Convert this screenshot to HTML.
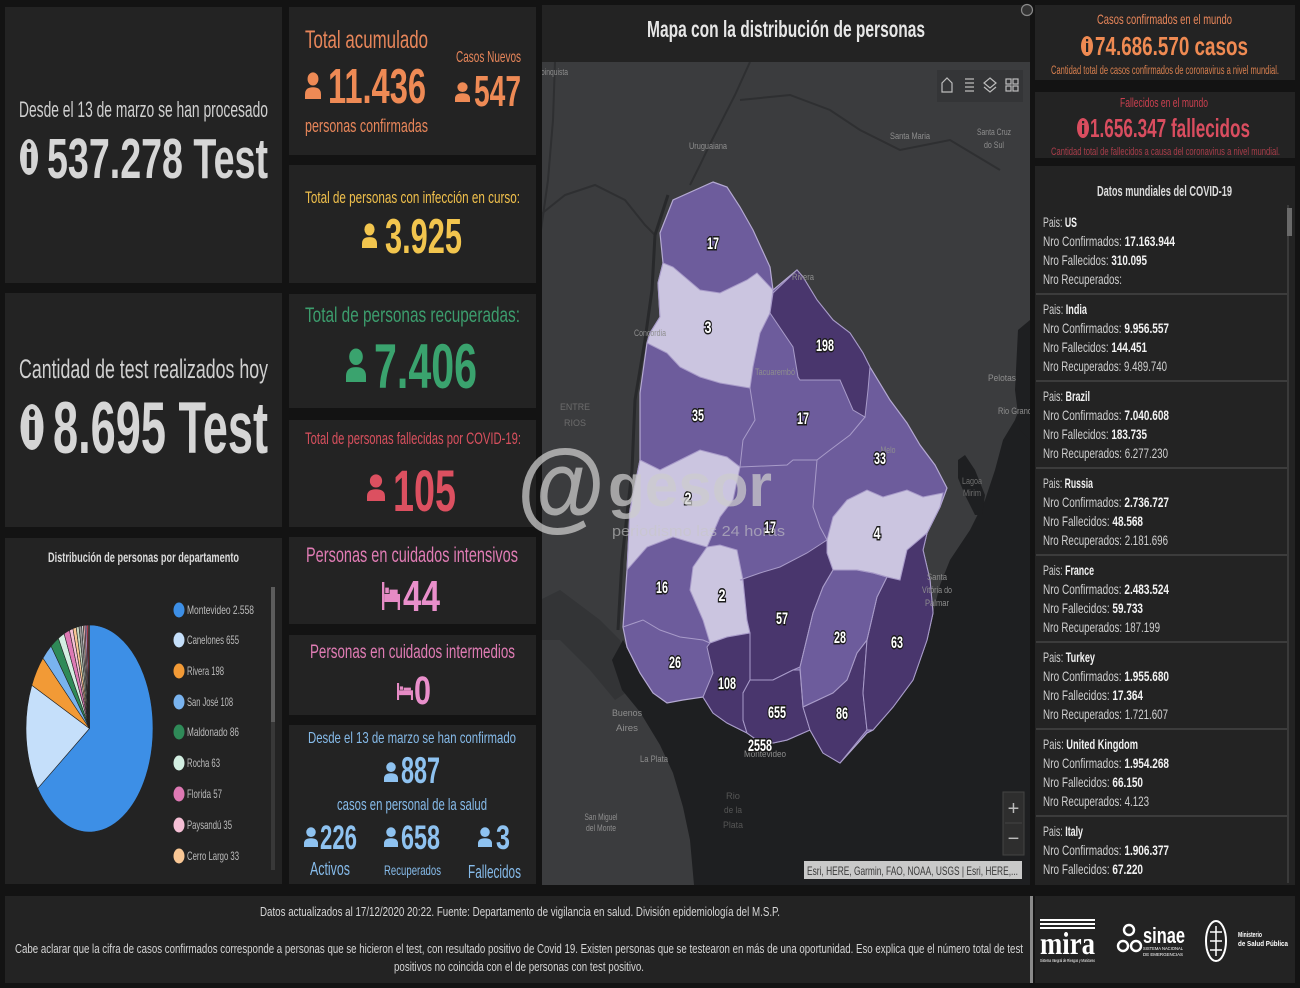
<!DOCTYPE html>
<html><head><meta charset="utf-8">
<style>
html,body{margin:0;padding:0;background:#131313;width:1300px;height:988px;overflow:hidden;}
svg{display:block}
text{font-family:"Liberation Sans",sans-serif;}
.lb{font-size:9px;fill:#8e8e8e;text-anchor:middle;}
.dn{font-size:17px;font-weight:bold;fill:#fff;stroke:#1a1a1a;stroke-width:3;paint-order:stroke;text-anchor:middle;}
.cl{font-size:14px;fill:#cfcfcf;}
.cl tspan{font-weight:bold;fill:#f2f2f2;}
.lg{font-size:12px;fill:#bcbcbc;}
</style></head><body>
<svg width="1300" height="988" viewBox="0 0 1300 988" xmlns="http://www.w3.org/2000/svg">
<defs>
<symbol id="p" viewBox="0 0 10 14" preserveAspectRatio="none"><circle cx="5" cy="3.6" r="3.4"/><path d="M0,14 L0,11.6 Q0,7.9 5,7.9 Q10,7.9 10,11.6 L10,14 Z"/></symbol>
<symbol id="bed" viewBox="0 0 20 14" preserveAspectRatio="none"><rect x="0" y="0" width="2.6" height="14"/><rect x="2.6" y="6" width="17.4" height="4"/><rect x="3.6" y="2.8" width="4" height="2.8"/><rect x="8.4" y="3.8" width="9" height="2.2"/><rect x="17.4" y="9" width="2.6" height="5"/></symbol>
<clipPath id="mc"><rect x="542" y="62" width="488" height="823"/></clipPath>
</defs>
<rect width="1300" height="988" fill="#131313"/>

<!-- LEFT COLUMN -->
<rect x="5" y="7" width="277" height="276" fill="#232323"/>
<rect x="5" y="293" width="277" height="234" fill="#232323"/>
<rect x="5" y="538" width="277" height="346" fill="#232323"/>

<text x="19" y="117" font-size="22" fill="#d0d0d0" textLength="249" lengthAdjust="spacingAndGlyphs">Desde el 13 de marzo se han procesado</text>
<ellipse cx="29" cy="157" rx="9" ry="18" fill="#d4d4d4"/>
<ellipse cx="29" cy="146" rx="2.3" ry="3.2" fill="#232323"/>
<rect x="26.8" y="152" width="4.4" height="16" fill="#232323"/>
<text x="47" y="178" font-size="57" font-weight="bold" fill="#d6d6d6" textLength="221" lengthAdjust="spacingAndGlyphs">537.278 Test</text>

<text x="19" y="378" font-size="27" fill="#d0d0d0" textLength="249" lengthAdjust="spacingAndGlyphs">Cantidad de test realizados hoy</text>
<ellipse cx="32" cy="427" rx="11.5" ry="23" fill="#d4d4d4"/>
<ellipse cx="32" cy="413" rx="3" ry="4" fill="#232323"/>
<rect x="29.2" y="420" width="5.6" height="20" fill="#232323"/>
<text x="53" y="453" font-size="73" font-weight="bold" fill="#d6d6d6" textLength="215" lengthAdjust="spacingAndGlyphs">8.695 Test</text>

<!-- Pie -->
<text x="48" y="562" font-size="13.5" font-weight="bold" fill="#dcdcdc" textLength="191" lengthAdjust="spacingAndGlyphs">Distribución de personas por departamento</text>
<g stroke="#232323" stroke-width="0.6">
<path d="M89.5,728.5 L89.5,625 A63.5,103.5 0 1 1 37.72,788.42 Z" fill="#3d8fe6"/>
<path d="M89.5,728.5 L37.72,788.42 A63.5,103.5 0 0 1 31.81,685.25 Z" fill="#c5dffa"/>
<path d="M89.5,728.5 L31.81,685.25 A63.5,103.5 0 0 1 42.94,658.12 Z" fill="#f29a36"/>
<path d="M89.5,728.5 L42.94,658.12 A63.5,103.5 0 0 1 51.08,646.08 Z" fill="#79b3ef"/>
<path d="M89.5,728.5 L51.08,646.08 A63.5,103.5 0 0 1 58.37,638.29 Z" fill="#2f8a58"/>
<path d="M89.5,728.5 L58.37,638.29 A63.5,103.5 0 0 1 64.11,633.63 Z" fill="#d3efe2"/>
<path d="M89.5,728.5 L64.11,633.63 A63.5,103.5 0 0 1 69.52,630.26 Z" fill="#de79b4"/>
<path d="M89.5,728.5 L69.52,630.26 A63.5,103.5 0 0 1 72.93,628.59 Z" fill="#f5bfd5"/>
<path d="M89.5,728.5 L72.93,628.59 A63.5,103.5 0 0 1 76.18,627.31 Z" fill="#f9c795"/>
<path d="M89.5,728.5 L76.18,627.31 A63.5,103.5 0 0 1 78.98,626.43 Z" fill="#c8d8c0"/>
<path d="M89.5,728.5 L78.98,626.43 A63.5,103.5 0 0 1 81.59,625.81 Z" fill="#9a9a9a"/>
<path d="M89.5,728.5 L81.59,625.81 A63.5,103.5 0 0 1 83.31,625.50 Z" fill="#d8d8d8"/>
<path d="M89.5,728.5 L83.31,625.50 A63.5,103.5 0 0 1 85.04,625.26 Z" fill="#e0a5a5"/>
<path d="M89.5,728.5 L85.04,625.26 A63.5,103.5 0 0 1 86.76,625.09 Z" fill="#c9a0d8"/>
<path d="M89.5,728.5 L86.76,625.09 A63.5,103.5 0 0 1 88.39,625.02 Z" fill="#c0394b"/>
<path d="M89.5,728.5 L88.39,625.02 A63.5,103.5 0 0 1 89.5,625 Z" fill="#888"/>
</g>
<ellipse cx="179" cy="610" rx="5.5" ry="7.5" fill="#3d8fe6"/>
<ellipse cx="179" cy="640" rx="5.5" ry="7.5" fill="#c5dffa"/>
<ellipse cx="179" cy="671" rx="5.5" ry="7.5" fill="#f29a36"/>
<ellipse cx="179" cy="702" rx="5.5" ry="7.5" fill="#79b3ef"/>
<ellipse cx="179" cy="732" rx="5.5" ry="7.5" fill="#2f8a58"/>
<ellipse cx="179" cy="763" rx="5.5" ry="7.5" fill="#d3efe2"/>
<ellipse cx="179" cy="794" rx="5.5" ry="7.5" fill="#de79b4"/>
<ellipse cx="179" cy="825" rx="5.5" ry="7.5" fill="#f5bfd5"/>
<ellipse cx="179" cy="856" rx="5.5" ry="7.5" fill="#f9c795"/>
<text class="lg" x="187" y="614" textLength="67" lengthAdjust="spacingAndGlyphs">Montevideo 2.558</text>
<text class="lg" x="187" y="644" textLength="52" lengthAdjust="spacingAndGlyphs">Canelones 655</text>
<text class="lg" x="187" y="675" textLength="37" lengthAdjust="spacingAndGlyphs">Rivera 198</text>
<text class="lg" x="187" y="706" textLength="46" lengthAdjust="spacingAndGlyphs">San José 108</text>
<text class="lg" x="187" y="736" textLength="52" lengthAdjust="spacingAndGlyphs">Maldonado 86</text>
<text class="lg" x="187" y="767" textLength="33" lengthAdjust="spacingAndGlyphs">Rocha 63</text>
<text class="lg" x="187" y="798" textLength="35" lengthAdjust="spacingAndGlyphs">Florida 57</text>
<text class="lg" x="187" y="829" textLength="45" lengthAdjust="spacingAndGlyphs">Paysandú 35</text>
<text class="lg" x="187" y="860" textLength="52" lengthAdjust="spacingAndGlyphs">Cerro Largo 33</text>
<rect x="271" y="587" width="4" height="283" fill="#383838"/>
<rect x="271" y="587" width="4" height="135" fill="#5c5c5c"/>

<!-- MIDDLE COLUMN -->
<rect x="289" y="7" width="247" height="148" fill="#232323"/>
<rect x="289" y="165" width="247" height="118" fill="#232323"/>
<rect x="289" y="294" width="247" height="114" fill="#232323"/>
<rect x="289" y="420" width="247" height="107" fill="#232323"/>
<rect x="289" y="537" width="247" height="87" fill="#232323"/>
<rect x="289" y="635" width="247" height="80" fill="#232323"/>
<rect x="289" y="725" width="247" height="159" fill="#232323"/>

<text x="305" y="48" font-size="25" fill="#e8865a" textLength="123" lengthAdjust="spacingAndGlyphs">Total acumulado</text>
<text x="456" y="62" font-size="16" fill="#e8865a" textLength="65" lengthAdjust="spacingAndGlyphs">Casos Nuevos</text>
<use href="#p" x="305" y="72" width="16" height="27" fill="#ee8a55"/>
<text x="328" y="103" font-size="49" font-weight="bold" fill="#ee8a55" textLength="98" lengthAdjust="spacingAndGlyphs">11.436</text>
<use href="#p" x="455" y="82" width="15" height="20" fill="#ee8a55"/>
<text x="474" y="106" font-size="44" font-weight="bold" fill="#ee8a55" textLength="47" lengthAdjust="spacingAndGlyphs">547</text>
<text x="305" y="132" font-size="18" fill="#e8865a" textLength="123" lengthAdjust="spacingAndGlyphs">personas confirmadas</text>

<text x="305" y="203" font-size="17" fill="#f0c04c" textLength="215" lengthAdjust="spacingAndGlyphs">Total de personas con infección en curso:</text>
<use href="#p" x="362" y="223" width="15" height="25" fill="#f2c54e"/>
<text x="385" y="253" font-size="49" font-weight="bold" fill="#f2c54e" textLength="77" lengthAdjust="spacingAndGlyphs">3.925</text>

<text x="305" y="322" font-size="21" fill="#3c9d6d" textLength="215" lengthAdjust="spacingAndGlyphs">Total de personas recuperadas:</text>
<use href="#p" x="346" y="348" width="20" height="34" fill="#3aa36e"/>
<text x="374" y="388" font-size="63" font-weight="bold" fill="#3aa36e" textLength="103" lengthAdjust="spacingAndGlyphs">7.406</text>

<text x="305" y="444" font-size="17" fill="#d8505e" textLength="216" lengthAdjust="spacingAndGlyphs">Total de personas fallecidas por COVID-19:</text>
<use href="#p" x="367" y="474" width="18" height="27" fill="#dc5060"/>
<text x="393" y="511" font-size="58" font-weight="bold" fill="#dc5060" textLength="63" lengthAdjust="spacingAndGlyphs">105</text>

<text x="306" y="562" font-size="21" fill="#e07cb4" textLength="212" lengthAdjust="spacingAndGlyphs">Personas en cuidados intensivos</text>
<use href="#bed" x="382" y="582" width="18" height="28" fill="#e68bc5"/>
<text x="403" y="611" font-size="44" font-weight="bold" fill="#e98fcb" textLength="37" lengthAdjust="spacingAndGlyphs">44</text>

<text x="310" y="658" font-size="19" fill="#e07cb4" textLength="205" lengthAdjust="spacingAndGlyphs">Personas en cuidados intermedios</text>
<use href="#bed" x="397" y="683" width="16" height="17" fill="#e68bc5"/>
<text x="414" y="704" font-size="40" font-weight="bold" fill="#e98fcb" textLength="17" lengthAdjust="spacingAndGlyphs">0</text>

<text x="308" y="743" font-size="16" fill="#86bbea" textLength="208" lengthAdjust="spacingAndGlyphs">Desde el 13 de marzo se han confirmado</text>
<use href="#p" x="384" y="762" width="14" height="20" fill="#8ec2f0"/>
<text x="401" y="783" font-size="37" font-weight="bold" fill="#8ec2f0" textLength="39" lengthAdjust="spacingAndGlyphs">887</text>
<text x="337" y="810" font-size="17" fill="#86bbea" textLength="150" lengthAdjust="spacingAndGlyphs">casos en personal de la salud</text>
<use href="#p" x="304" y="827" width="14" height="20" fill="#8ec2f0"/>
<text x="320" y="849" font-size="34" font-weight="bold" fill="#8ec2f0" textLength="37" lengthAdjust="spacingAndGlyphs">226</text>
<use href="#p" x="384" y="827" width="14" height="20" fill="#8ec2f0"/>
<text x="401" y="849" font-size="34" font-weight="bold" fill="#8ec2f0" textLength="39" lengthAdjust="spacingAndGlyphs">658</text>
<use href="#p" x="478" y="827" width="14" height="20" fill="#8ec2f0"/>
<text x="496" y="849" font-size="34" font-weight="bold" fill="#8ec2f0" textLength="14" lengthAdjust="spacingAndGlyphs">3</text>
<text x="310" y="875" font-size="18" fill="#86bbea" textLength="40" lengthAdjust="spacingAndGlyphs">Activos</text>
<text x="384" y="875" font-size="14" fill="#86bbea" textLength="57" lengthAdjust="spacingAndGlyphs">Recuperados</text>
<text x="468" y="878" font-size="18" fill="#86bbea" textLength="53" lengthAdjust="spacingAndGlyphs">Fallecidos</text>

<!-- MAP -->
<rect x="542" y="5" width="488" height="57" fill="#232323"/>
<text x="647" y="37" font-size="23" font-weight="bold" fill="#e6e6e6" textLength="278" lengthAdjust="spacingAndGlyphs">Mapa con la distribución de personas</text>
<circle cx="1027" cy="10" r="5.5" fill="#333" stroke="#8a8a8a" stroke-width="1.2"/>
<g clip-path="url(#mc)">
<rect x="542" y="62" width="488" height="823" fill="#3b3c3e"/>
<g fill="none" stroke="#2e2f31" stroke-width="2">
<polyline points="750,62 735,95 712,140 700,165 690,185"/>
<polyline points="540,215 565,195 595,185 625,200 645,225 655,235"/>
<polyline points="740,100 790,95 830,110 860,130 900,150 950,140 1000,170"/>
<polyline points="555,62 553,120 548,180 541,230"/>
<polyline points="668,195 655,235 652,290 645,340 635,400 632,470 622,560 618,630" stroke="#28292b" stroke-width="3"/>
</g>
<polygon points="540,600 560,590 600,620 620,640 627,660 630,690 615,700 590,670 560,640 540,640" fill="#333436"/>
<polygon fill="#1e1f21" points="1030,380 1015,420 1003,440 995,470 985,500 970,530 950,560 940,585 933,613 927,640 913,680 893,707 873,730 867,733 840,763 823,753 810,730 787,740 773,743 757,740 747,733 727,723 713,713 703,697 683,700 667,703 653,693 640,673 627,647 623,640 612,660 622,690 640,712 660,745 673,773 683,807 690,840 694,885 1030,885"/>
<polygon fill="#1e1f21" points="958,460 965,455 975,470 985,495 982,515 975,515 965,495 958,478"/>
<polygon fill="#1e1f21" points="1018,330 1030,320 1030,440 1020,430 1015,390"/>
<polygon fill="#6d5c9c" stroke="#b4a9d2" stroke-width="1.2" points="713,182 727,187 740,207 753,230 770,267 773,290 797,270 803,277 817,300 833,320 850,333 863,353 870,367 890,400 907,423 920,445 935,465 947,488 940,507 927,533 923,550 930,580 933,613 927,640 913,680 893,707 873,730 867,733 840,763 823,753 810,730 787,740 773,743 757,740 747,733 727,723 713,713 703,697 683,700 667,703 653,693 640,673 627,647 623,627 627,570 630,510 640,460 640,393 647,343 650,333 660,317 658,283 663,263 660,233 673,200"/>
<g stroke="#a89bc9" stroke-width="1">
<polygon fill="#cbc5e0" points="663,263 673,267 700,290 720,293 747,280 757,273 773,290 770,313 760,333 753,367 750,388 720,383 700,377 680,367 667,353 647,343 650,333 660,317 658,283"/>
<polygon fill="#cbc5e0" points="640,460 660,470 680,460 700,450 727,457 740,467 733,500 720,517 707,547 693,543 673,537 647,547 627,570 630,510"/>
<polygon fill="#cbc5e0" points="707,547 720,545 737,550 743,580 747,620 750,633 727,637 710,643 703,620 690,590 693,567"/>
<polygon fill="#cbc5e0" points="833,517 847,500 867,490 883,497 907,490 923,497 943,493 940,507 927,533 907,550 900,580 887,577 873,573 857,570 833,570 827,553 827,540"/>
<polygon fill="#49366d" points="773,293 797,270 803,277 817,300 833,320 850,333 863,353 870,367 868,390 865,417 853,410 840,380 800,380 798,377 793,347 770,313"/>
<polygon fill="#49366d" points="740,580 760,573 780,567 807,553 827,540 827,553 833,570 823,587 813,613 800,667 793,670 773,680 760,683 750,680 750,633 747,620 743,580"/>
<polygon fill="#49366d" points="710,643 727,637 750,633 750,680 743,693 743,720 747,733 727,723 713,713 703,697 713,673 707,647"/>
<polygon fill="#49366d" points="750,680 773,680 793,670 800,670 803,707 810,730 787,740 773,743 757,740 747,733 743,720 743,693"/>
<polygon fill="#49366d" points="803,707 833,693 847,680 857,653 867,640 863,693 867,730 840,763 823,753 810,730"/>
<polygon fill="#49366d" points="887,577 900,580 907,550 927,533 923,550 930,580 933,613 927,640 913,680 893,707 873,730 867,730 863,693 867,640 877,597"/>
<g fill="none">
<polyline points="750,388 755,420 743,440 740,467"/>
<polyline points="740,467 787,465 793,460 817,460"/>
<polyline points="865,417 850,435 830,450 817,460 813,507 820,527 827,540"/>
<polyline points="623,627 643,620 660,630 680,637 703,640 710,643"/>
<polygon points="833,570 857,570 873,573 887,577 877,597 867,640 857,653 847,680 833,693 803,707 800,667 813,613 823,587"/>
</g>
</g>
<text class="lb" x="541" y="75" style="text-anchor:start" textLength="27" lengthAdjust="spacingAndGlyphs">oinquista</text>
<text class="lb" x="708" y="149" textLength="38" lengthAdjust="spacingAndGlyphs">Uruguaiana</text>
<text class="lb" x="910" y="139" textLength="40" lengthAdjust="spacingAndGlyphs">Santa Maria</text>
<text class="lb" x="994" y="135" textLength="34" lengthAdjust="spacingAndGlyphs">Santa Cruz</text>
<text class="lb" x="994" y="148" textLength="20" lengthAdjust="spacingAndGlyphs">do Sul</text>
<text class="lb" x="650" y="336" fill="#6a6a6a" textLength="32" lengthAdjust="spacingAndGlyphs">Concordia</text>
<text class="lb" x="803" y="280" textLength="22" lengthAdjust="spacingAndGlyphs">Rivera</text>
<text class="lb" x="775" y="375" textLength="40" lengthAdjust="spacingAndGlyphs">Tacuarembó</text>
<text class="lb" x="1002" y="381" font-size="10" textLength="28" lengthAdjust="spacingAndGlyphs">Pelotas</text>
<text class="lb" x="1015" y="414" textLength="34" lengthAdjust="spacingAndGlyphs">Rio Grand</text>
<text class="lb" x="575" y="410" style="fill:#6c6c6c" textLength="30" lengthAdjust="spacingAndGlyphs">ENTRE</text>
<text class="lb" x="575" y="426" style="fill:#6c6c6c" textLength="22" lengthAdjust="spacingAndGlyphs">RIOS</text>
<text class="lb" x="888" y="453" textLength="15" lengthAdjust="spacingAndGlyphs">Melo</text>
<text class="lb" x="972" y="484" style="fill:#6e6e6e" textLength="20" lengthAdjust="spacingAndGlyphs">Lagoa</text>
<text class="lb" x="972" y="496" style="fill:#6e6e6e" textLength="18" lengthAdjust="spacingAndGlyphs">Mirim</text>
<text class="lb" x="937" y="580" textLength="20" lengthAdjust="spacingAndGlyphs">Santa</text>
<text class="lb" x="937" y="593" textLength="30" lengthAdjust="spacingAndGlyphs">Vitória do</text>
<text class="lb" x="937" y="606" textLength="24" lengthAdjust="spacingAndGlyphs">Palmar</text>
<text class="lb" x="627" y="716" font-size="11" textLength="30" lengthAdjust="spacingAndGlyphs">Buenos</text>
<text class="lb" x="627" y="731" font-size="11" textLength="22" lengthAdjust="spacingAndGlyphs">Aires</text>
<text class="lb" x="654" y="762" font-size="10" textLength="28" lengthAdjust="spacingAndGlyphs">La Plata</text>
<text class="lb" x="765" y="757" font-size="10" textLength="42" lengthAdjust="spacingAndGlyphs">Montevideo</text>
<text class="lb" x="601" y="820" textLength="33" lengthAdjust="spacingAndGlyphs">San Miguel</text>
<text class="lb" x="601" y="831" textLength="30" lengthAdjust="spacingAndGlyphs">del Monte</text>
<text class="lb" x="733" y="799" style="fill:#555" textLength="14" lengthAdjust="spacingAndGlyphs">Rio</text>
<text class="lb" x="733" y="813" style="fill:#555" textLength="18" lengthAdjust="spacingAndGlyphs">de la</text>
<text class="lb" x="733" y="828" style="fill:#555" textLength="20" lengthAdjust="spacingAndGlyphs">Plata</text>
<text class="dn" x="713" y="249" textLength="12" lengthAdjust="spacingAndGlyphs">17</text>
<text class="dn" x="708" y="333" textLength="7" lengthAdjust="spacingAndGlyphs">3</text>
<text class="dn" x="825" y="351" textLength="18" lengthAdjust="spacingAndGlyphs">198</text>
<text class="dn" x="698" y="421" textLength="12" lengthAdjust="spacingAndGlyphs">35</text>
<text class="dn" x="803" y="424" textLength="12" lengthAdjust="spacingAndGlyphs">17</text>
<text class="dn" x="880" y="464" textLength="12" lengthAdjust="spacingAndGlyphs">33</text>
<text class="dn" x="688" y="504" textLength="7" lengthAdjust="spacingAndGlyphs">2</text>
<text class="dn" x="770" y="533" textLength="12" lengthAdjust="spacingAndGlyphs">17</text>
<text class="dn" x="877" y="539" textLength="7" lengthAdjust="spacingAndGlyphs">4</text>
<text class="dn" x="662" y="593" textLength="12" lengthAdjust="spacingAndGlyphs">16</text>
<text class="dn" x="722" y="601" textLength="7" lengthAdjust="spacingAndGlyphs">2</text>
<text class="dn" x="782" y="624" textLength="12" lengthAdjust="spacingAndGlyphs">57</text>
<text class="dn" x="840" y="643" textLength="12" lengthAdjust="spacingAndGlyphs">28</text>
<text class="dn" x="897" y="648" textLength="12" lengthAdjust="spacingAndGlyphs">63</text>
<text class="dn" x="675" y="668" textLength="12" lengthAdjust="spacingAndGlyphs">26</text>
<text class="dn" x="727" y="689" textLength="18" lengthAdjust="spacingAndGlyphs">108</text>
<text class="dn" x="777" y="718" textLength="18" lengthAdjust="spacingAndGlyphs">655</text>
<text class="dn" x="842" y="719" textLength="12" lengthAdjust="spacingAndGlyphs">86</text>
<text class="dn" x="760" y="751" textLength="24" lengthAdjust="spacingAndGlyphs">2558</text>
<rect x="937" y="70" width="86" height="32" fill="#343537"/>
<g fill="none" stroke="#bdbdbd" stroke-width="1.2">
<path d="M942,92 L942,83 L947,78 L952,83 L952,92 Z"/>
<path d="M965,79 h9 M965,83 h9 M965,87 h9 M965,91 h9"/>
<path d="M990,78 L996,83 L990,88 L984,83 Z M984,87 L990,92 L996,87"/>
<rect x="1006" y="79" width="5" height="5"/><rect x="1013" y="79" width="5" height="5"/><rect x="1006" y="86" width="5" height="5"/><rect x="1013" y="86" width="5" height="5"/>
</g>
<rect x="1003" y="792" width="21" height="63" fill="#2e2e2e" stroke="#444"/>
<line x1="1005" y1="823" x2="1022" y2="823" stroke="#444"/>
<text x="1013.5" y="815" font-size="20" fill="#bbb" text-anchor="middle">+</text>
<text x="1013.5" y="845" font-size="20" fill="#bbb" text-anchor="middle">−</text>
<rect x="804" y="861" width="218" height="18" fill="#c9c9c9"/>
<text x="807" y="875" font-size="12" fill="#3a3a3a" textLength="211" lengthAdjust="spacingAndGlyphs">Esri, HERE, Garmin, FAO, NOAA, USGS | Esri, HERE,...</text>
</g>
<!-- watermark -->
<text x="517" y="519" font-size="100" font-weight="bold" fill="#c4c4c4" opacity="0.78" textLength="88" lengthAdjust="spacingAndGlyphs">@</text>
<text x="608" y="506" font-size="60" font-weight="bold" fill="#cdcdcd" opacity="0.72" textLength="164" lengthAdjust="spacingAndGlyphs">gesor</text>
<text x="612" y="536" font-size="15" fill="#c8c8c8" opacity="0.6" textLength="173" lengthAdjust="spacingAndGlyphs">periodismo las 24 horas</text>

<!-- RIGHT COLUMN -->
<rect x="1035" y="5" width="260" height="75" fill="#232323"/>
<rect x="1035" y="92" width="260" height="66" fill="#232323"/>
<rect x="1035" y="166" width="260" height="719" fill="#232323"/>
<text x="1097" y="24" font-size="14" fill="#e8865a" textLength="135" lengthAdjust="spacingAndGlyphs">Casos confirmados en el mundo</text>
<ellipse cx="1087" cy="46" rx="6" ry="10" fill="#ef8a52"/>
<rect x="1086" y="43" width="2.2" height="9" fill="#232323"/><rect x="1086" y="39" width="2.2" height="2.4" fill="#232323"/>
<text x="1095" y="55" font-size="26" font-weight="bold" fill="#ef8a52" textLength="153" lengthAdjust="spacingAndGlyphs">74.686.570 casos</text>
<text x="1051" y="74" font-size="11.5" fill="#d9804f" textLength="228" lengthAdjust="spacingAndGlyphs">Cantidad total de casos confirmados de coronavirus a nivel mundial.</text>
<text x="1120" y="107" font-size="13" fill="#c9404f" textLength="88" lengthAdjust="spacingAndGlyphs">Fallecidos en el mundo</text>
<ellipse cx="1083" cy="128" rx="6" ry="10" fill="#d94d5f"/>
<rect x="1082" y="125" width="2.2" height="9" fill="#232323"/><rect x="1082" y="121" width="2.2" height="2.4" fill="#232323"/>
<text x="1090" y="137" font-size="26" font-weight="bold" fill="#d94d5f" textLength="160" lengthAdjust="spacingAndGlyphs">1.656.347 fallecidos</text>
<text x="1051" y="155" font-size="11" fill="#a93d4a" textLength="229" lengthAdjust="spacingAndGlyphs">Cantidad total de fallecidos a causa del coronavirus a nivel mundial.</text>
<text x="1097" y="196" font-size="15" font-weight="bold" fill="#dcdcdc" textLength="135" lengthAdjust="spacingAndGlyphs">Datos mundiales del COVID-19</text>
<rect x="1287" y="205" width="2" height="678" fill="#3a3a3a"/>
<rect x="1287" y="208" width="5" height="28" fill="#6a6a6a"/>
<g fill="#3c3c3c">
<rect x="1036" y="293" width="251" height="2"/>
<rect x="1036" y="380" width="251" height="2"/>
<rect x="1036" y="467" width="251" height="2"/>
<rect x="1036" y="554" width="251" height="2"/>
<rect x="1036" y="641" width="251" height="2"/>
<rect x="1036" y="728" width="251" height="2"/>
<rect x="1036" y="815" width="251" height="2"/>
</g>
<g>
<text class="cl" x="1043" y="227" textLength="34" lengthAdjust="spacingAndGlyphs">Pais: <tspan>US</tspan></text>
<text class="cl" x="1043" y="246" textLength="132" lengthAdjust="spacingAndGlyphs">Nro Confirmados: <tspan>17.163.944</tspan></text>
<text class="cl" x="1043" y="265" textLength="104" lengthAdjust="spacingAndGlyphs">Nro Fallecidos: <tspan>310.095</tspan></text>
<text class="cl" x="1043" y="284" textLength="79" lengthAdjust="spacingAndGlyphs">Nro Recuperados:</text>

<text class="cl" x="1043" y="314" textLength="44" lengthAdjust="spacingAndGlyphs">Pais: <tspan>India</tspan></text>
<text class="cl" x="1043" y="333" textLength="126" lengthAdjust="spacingAndGlyphs">Nro Confirmados: <tspan>9.956.557</tspan></text>
<text class="cl" x="1043" y="352" textLength="104" lengthAdjust="spacingAndGlyphs">Nro Fallecidos: <tspan>144.451</tspan></text>
<text class="cl" x="1043" y="371" textLength="124" lengthAdjust="spacingAndGlyphs">Nro Recuperados: 9.489.740</text>

<text class="cl" x="1043" y="401" textLength="47" lengthAdjust="spacingAndGlyphs">Pais: <tspan>Brazil</tspan></text>
<text class="cl" x="1043" y="420" textLength="126" lengthAdjust="spacingAndGlyphs">Nro Confirmados: <tspan>7.040.608</tspan></text>
<text class="cl" x="1043" y="439" textLength="104" lengthAdjust="spacingAndGlyphs">Nro Fallecidos: <tspan>183.735</tspan></text>
<text class="cl" x="1043" y="458" textLength="125" lengthAdjust="spacingAndGlyphs">Nro Recuperados: 6.277.230</text>

<text class="cl" x="1043" y="488" textLength="50" lengthAdjust="spacingAndGlyphs">Pais: <tspan>Russia</tspan></text>
<text class="cl" x="1043" y="507" textLength="126" lengthAdjust="spacingAndGlyphs">Nro Confirmados: <tspan>2.736.727</tspan></text>
<text class="cl" x="1043" y="526" textLength="100" lengthAdjust="spacingAndGlyphs">Nro Fallecidos: <tspan>48.568</tspan></text>
<text class="cl" x="1043" y="545" textLength="125" lengthAdjust="spacingAndGlyphs">Nro Recuperados: 2.181.696</text>

<text class="cl" x="1043" y="575" textLength="51" lengthAdjust="spacingAndGlyphs">Pais: <tspan>France</tspan></text>
<text class="cl" x="1043" y="594" textLength="126" lengthAdjust="spacingAndGlyphs">Nro Confirmados: <tspan>2.483.524</tspan></text>
<text class="cl" x="1043" y="613" textLength="100" lengthAdjust="spacingAndGlyphs">Nro Fallecidos: <tspan>59.733</tspan></text>
<text class="cl" x="1043" y="632" textLength="117" lengthAdjust="spacingAndGlyphs">Nro Recuperados: 187.199</text>

<text class="cl" x="1043" y="662" textLength="52" lengthAdjust="spacingAndGlyphs">Pais: <tspan>Turkey</tspan></text>
<text class="cl" x="1043" y="681" textLength="126" lengthAdjust="spacingAndGlyphs">Nro Confirmados: <tspan>1.955.680</tspan></text>
<text class="cl" x="1043" y="700" textLength="100" lengthAdjust="spacingAndGlyphs">Nro Fallecidos: <tspan>17.364</tspan></text>
<text class="cl" x="1043" y="719" textLength="125" lengthAdjust="spacingAndGlyphs">Nro Recuperados: 1.721.607</text>

<text class="cl" x="1043" y="749" textLength="95" lengthAdjust="spacingAndGlyphs">Pais: <tspan>United Kingdom</tspan></text>
<text class="cl" x="1043" y="768" textLength="126" lengthAdjust="spacingAndGlyphs">Nro Confirmados: <tspan>1.954.268</tspan></text>
<text class="cl" x="1043" y="787" textLength="100" lengthAdjust="spacingAndGlyphs">Nro Fallecidos: <tspan>66.150</tspan></text>
<text class="cl" x="1043" y="806" textLength="106" lengthAdjust="spacingAndGlyphs">Nro Recuperados: 4.123</text>

<text class="cl" x="1043" y="836" textLength="40" lengthAdjust="spacingAndGlyphs">Pais: <tspan>Italy</tspan></text>
<text class="cl" x="1043" y="855" textLength="126" lengthAdjust="spacingAndGlyphs">Nro Confirmados: <tspan>1.906.377</tspan></text>
<text class="cl" x="1043" y="874" textLength="100" lengthAdjust="spacingAndGlyphs">Nro Fallecidos: <tspan>67.220</tspan></text>
</g>

<!-- FOOTER -->
<rect x="5" y="896" width="1025" height="87" fill="#232323"/>
<rect x="1030" y="896" width="3" height="87" fill="#8a8a8a"/>
<rect x="1035" y="896" width="260" height="87" fill="#232323"/>
<text x="260" y="916" font-size="12.5" fill="#d6d6d6" textLength="520" lengthAdjust="spacingAndGlyphs">Datos actualizados al 17/12/2020 20:22. Fuente: Departamento de vigilancia en salud. División epidemiología del M.S.P.</text>
<text x="15" y="953" font-size="12.5" fill="#d6d6d6" textLength="1008" lengthAdjust="spacingAndGlyphs">Cabe aclarar que la cifra de casos confirmados corresponde a personas que se hicieron el test, con resultado positivo de Covid 19. Existen personas que se testearon en más de una oportunidad. Eso explica que el número total de test</text>
<text x="394" y="971" font-size="12.5" fill="#d6d6d6" textLength="250" lengthAdjust="spacingAndGlyphs">positivos no coincida con el de personas con test positivo.</text>
<g fill="#fff">
<rect x="1040" y="919" width="55" height="2"/>
<rect x="1040" y="923" width="55" height="2"/>
<rect x="1040" y="927" width="55" height="2"/>
<text x="1040" y="954" font-size="32" font-weight="bold" textLength="55" lengthAdjust="spacingAndGlyphs" style="font-family:'Liberation Serif',serif">mira</text>
<text x="1040" y="962" font-size="4.5" textLength="55" lengthAdjust="spacingAndGlyphs">Sistema Integral de Riesgos y Monitoreo</text>
<text x="1143" y="943" font-size="22" font-weight="bold" textLength="42" lengthAdjust="spacingAndGlyphs">sinae</text>
<text x="1143" y="950" font-size="4.5" textLength="40" lengthAdjust="spacingAndGlyphs">SISTEMA NACIONAL</text>
<text x="1143" y="956" font-size="4.5" textLength="40" lengthAdjust="spacingAndGlyphs">DE EMERGENCIAS</text>
<text x="1238" y="937" font-size="7.5" font-weight="bold" textLength="24" lengthAdjust="spacingAndGlyphs">Ministerio</text>
<text x="1238" y="946" font-size="7.5" font-weight="bold" textLength="50" lengthAdjust="spacingAndGlyphs">de Salud Pública</text>
</g>
<g fill="none" stroke="#fff" stroke-width="2.4">
<circle cx="1129" cy="930" r="5"/>
<circle cx="1123" cy="946" r="5"/>
<circle cx="1136" cy="946" r="5"/>
<ellipse cx="1216" cy="941" rx="10" ry="20" stroke-width="2"/>
<path d="M1210,932 h12 M1210,941 h12 M1210,950 h12 M1216,926 v30" stroke-width="1.5"/>
</g>
</svg>
</body></html>
